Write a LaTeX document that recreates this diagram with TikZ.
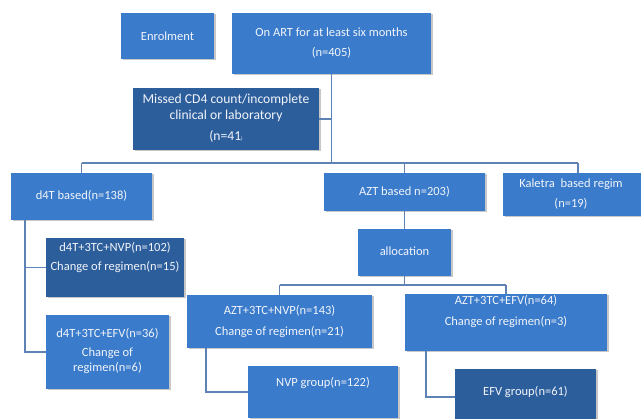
\documentclass[tikz,border=0pt]{standalone}
\usepackage{fontspec}
\setmainfont{Carlito}
\usetikzlibrary{shadows}
\definecolor{lightbox}{HTML}{3A7BCB}
\definecolor{darkbox}{HTML}{2D5E9C}
\definecolor{conn}{HTML}{5F82B4}
\definecolor{txtcol}{HTML}{F2F5FB}
\tikzset{
  boxbase/.style={draw=none, rectangle, inner sep=0pt,
    drop shadow={shadow xshift=1.5pt, shadow yshift=-1.5pt, fill=black, opacity=0.22}},
  lightb/.style={boxbase, fill=lightbox},
  darkb/.style={boxbase, fill=darkbox},
  lbl/.style={inner sep=0pt, align=center, text=txtcol,
    font=\fontsize{12.5}{20}\selectfont},
  wire/.style={draw=conn, line width=1.2pt}
}
\newcommand{\boxat}[6]{% style, name, x1, y1, x2, y2
  \node[#1, minimum width={(#5)-(#3)}, minimum height={(#6)-(#4)}] (#2) at ({((#3)+(#5))/2},{((#4)+(#6))/2}) {};}
\begin{document}
\begin{tikzpicture}[x=1pt,y=-1pt]
\useasboundingbox (0,0) rectangle (641,419);
% boxes
\boxat{lightb}{enrol}{121}{13}{214}{59}
\boxat{lightb}{onart}{232}{13}{431}{74}
\boxat{darkb}{missed}{133}{88}{319}{150}
\boxat{lightb}{d4t}{11}{173}{152}{220}
\boxat{lightb}{azt}{324}{173}{485}{211}
\boxat{lightb}{kal}{503}{173}{653}{216}
\boxat{lightb}{alloc}{358}{229}{451}{276}
\boxat{darkb}{dnvp}{46}{238}{184}{297}
\boxat{lightb}{defv}{46}{315}{169}{389}
\boxat{lightb}{anvp}{187}{295}{372}{348}
\boxat{lightb}{aefv}{405}{294}{607}{351}
\boxat{lightb}{nvpg}{248}{366}{398}{418}
\boxat{darkb}{efvg}{455}{369}{596}{425}
% texts
\node[lbl] (enrolt) at (enrol.center |- 0,36) {Enrolment};
\node[lbl] (onartt) at (onart.center |- 0,43) {On ART for at least six months\\(n=405)};
\node[lbl, font=\fontsize{13.6}{16}\selectfont] (missedt) at (missed.center |- 0,118.5)
  {Missed CD4 count/incomplete\\clinical or laboratory\\[5pt](n=41{\fontsize{5}{5}\selectfont )}};
\node[lbl] (d4tt) at (d4t.center |- 0,196) {d4T based(n=138)};
\node[lbl] (aztt) at (azt.center |- 0,192) {AZT based n=203)};
\node[lbl] (kalt) at (571,194) {Kaletra\ \ based regim\\(n=19)};
\node[lbl] (alloct) at (alloc.center |- 0,251) {allocation};
\node[lbl, font=\fontsize{12.5}{19}\selectfont] (dnvpt) at (dnvp.center |- 0,257.5) {d4T+3TC+NVP(n=102)\\Change of regimen(n=15)};
\node[lbl, font=\fontsize{12.5}{15}\selectfont] (defvt) at (defv.center |- 0,351.5) {d4T+3TC+EFV(n=36)\\[4pt]Change of\\regimen(n=6)};
\node[lbl, font=\fontsize{12.5}{21}\selectfont] (anvpt) at (anvp.center |- 0,321.5) {AZT+3TC+NVP(n=143)\\Change of regimen(n=21)};
\node[lbl, font=\fontsize{12.5}{21}\selectfont] (aefvt) at (aefv.center |- 0,311.5) {AZT+3TC+EFV(n=64)\\Change of regimen(n=3)};
\node[lbl] (nvpgt) at (nvpg.center |- 0,383) {NVP group(n=122)};
\node[lbl] (efvgt) at (efvg.center |- 0,392) {EFV group(n=61)};
% junction coordinates
\coordinate (bus) at (0,163);
\coordinate (kj) at (578,163);
\coordinate (dl) at (25,0);
\coordinate (abus) at (0,285);
\coordinate (nj) at (206,0);
\coordinate (ej) at (426,0);
% connectors
\draw[wire] (onart.south) -- (onart.south |- bus);
\draw[wire] (missed.east) -- (missed.east -| onart.south);
\draw[wire] (d4t.north |- bus) -- (kj);
\draw[wire] (d4t.north |- bus) -- (d4t.north);
\draw[wire] (azt.north |- bus) -- (azt.north);
\draw[wire] (kj) -- (kj |- kal.north);
\draw[wire] (d4t.south -| dl) -- (dl |- defv.west) -- (defv.west);
\draw[wire] (dl |- dnvp.west) -- (dnvp.west);
\draw[wire] (azt.south) -- (alloc.north);
\draw[wire] (alloc.south) -- (alloc.south |- abus);
\draw[wire] (anvp.north |- abus) -- (aefv.north |- abus);
\draw[wire] (anvp.north |- abus) -- (anvp.north);
\draw[wire] (aefv.north |- abus) -- (aefv.north);
\draw[wire] (anvp.south -| nj) -- (nj |- nvpg.west) -- (nvpg.west);
\draw[wire] (aefv.south -| ej) -- (ej |- 0,397) -- (efvg.west |- 0,397);
\end{tikzpicture}
\end{document}
